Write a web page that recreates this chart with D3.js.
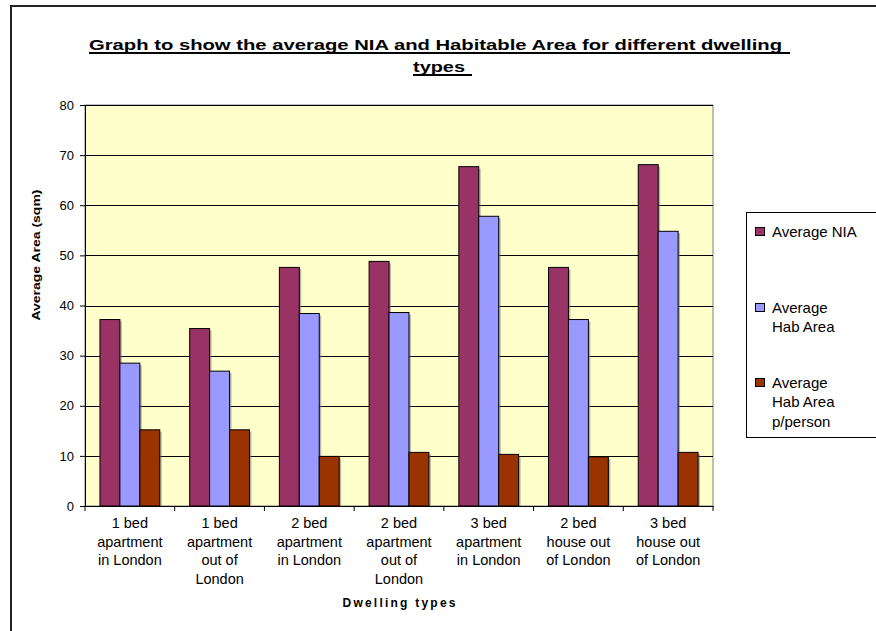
<!DOCTYPE html>
<html>
<head>
<meta charset="utf-8">
<script src="https://cdn.jsdelivr.net/npm/d3@7"></script>
<style>
  html, body { margin: 0; padding: 0; background: #fff; }
  svg { display: block; font-family: Arial, "Liberation Sans", sans-serif; }
</style>
</head>
<body>
<svg id="chart" width="876" height="631"></svg>
<script>
// ---- data ----
const categories = [
  "1 bed apartment in London",
  "1 bed apartment out of London",
  "2 bed apartment in London",
  "2 bed apartment out of London",
  "3 bed apartment in London",
  "2 bed house out of London",
  "3 bed house out of London"
];
const categoryLines = [
  ["1 bed", "apartment", "in London"],
  ["1 bed", "apartment", "out of", "London"],
  ["2 bed", "apartment", "in London"],
  ["2 bed", "apartment", "out of", "London"],
  ["3 bed", "apartment", "in London"],
  ["2 bed", "house out", "of London"],
  ["3 bed", "house out", "of London"]
];
const seriesNames = ["Average NIA", "Average Hab Area", "Average Hab Area p/person"];
const legendLines = [["Average NIA"], ["Average", "Hab Area"], ["Average", "Hab Area", "p/person"]];
const averageNIA = [37.2, 35.4, 47.6, 48.8, 67.7, 47.6, 68.1];
const averageHab = [28.5, 26.9, 38.4, 38.6, 57.8, 37.2, 54.8];
const averageHabPerPerson = [15.2, 15.2, 9.9, 10.7, 10.3, 9.8, 10.7];
const yTicks = [0, 10, 20, 30, 40, 50, 60, 70, 80];
const colors = ["#993366", "#9999FF", "#993300"];

const seriesValues = [averageNIA, averageHab, averageHabPerPerson];

// ---- layout ----
const svg = d3.select("#chart");
const plot = { left: 85, right: 713, top: 105, bottom: 506 };

const x = d3.scaleBand().domain(categories).range([plot.left, plot.right]).paddingInner(0).paddingOuter(0);
const xs = d3.scaleBand().domain(seriesNames).range([0, x.bandwidth()]).paddingInner(0).paddingOuter(0.75);
const y = d3.scaleLinear().domain([0, 80]).range([plot.bottom, plot.top]);

// outer frame
svg.append("rect")
  .attr("x", 11).attr("y", 6).attr("width", 900).attr("height", 700)
  .attr("fill", "#fff").attr("stroke", "#222").attr("stroke-width", 2);

// title
const title1 = "Graph to show the average NIA and Habitable Area for different dwelling";
const title2 = "types";
const tg = svg.append("g").attr("font-weight", "bold").attr("font-size", 15).attr("fill", "#000");
tg.append("text").attr("x", 89).attr("y", 50).attr("textLength", 693).attr("lengthAdjust", "spacingAndGlyphs").text(title1);
tg.append("rect").attr("x", 89).attr("y", 52).attr("width", 701).attr("height", 2);
tg.append("text").attr("x", 413).attr("y", 72).attr("textLength", 52).attr("lengthAdjust", "spacingAndGlyphs").text(title2);
tg.append("rect").attr("x", 413).attr("y", 74).attr("width", 59).attr("height", 2);

// plot background
svg.append("rect")
  .attr("x", plot.left).attr("y", plot.top)
  .attr("width", plot.right - plot.left).attr("height", plot.bottom - plot.top)
  .attr("fill", "#FFFFCC").attr("stroke", "#808080").attr("stroke-width", 1);

// gridlines
svg.append("g").selectAll("line").data(yTicks.filter(d => d > 0)).join("line")
  .attr("x1", plot.left).attr("x2", plot.right)
  .attr("y1", d => Math.round(y(d)) + 0.5).attr("y2", d => Math.round(y(d)) + 0.5)
  .attr("stroke", "#000").attr("stroke-width", 1);

// bars
const barData = [];
categories.forEach((c, i) => {
  seriesNames.forEach((s, j) => barData.push({ c, s, j, v: seriesValues[j][i] }));
});
const bars = svg.append("g");
bars.selectAll("rect.shadow").data(barData).join("rect").attr("class", "shadow")
  .attr("x", d => x(d.c) + xs(d.s) + 2)
  .attr("y", d => y(d.v) + 2)
  .attr("width", xs.bandwidth())
  .attr("height", d => y(0) - y(d.v) - 2)
  .attr("fill", "#808080").attr("opacity", 0.55);
bars.selectAll("rect.bar").data(barData).join("rect").attr("class", "bar")
  .attr("x", d => x(d.c) + xs(d.s))
  .attr("y", d => y(d.v))
  .attr("width", xs.bandwidth())
  .attr("height", d => y(0) - y(d.v))
  .attr("fill", d => colors[d.j]).attr("stroke", "#000").attr("stroke-width", 1);

// y axis
const yAxis = d3.axisLeft(y).tickValues(yTicks).tickSize(5).tickPadding(6).tickFormat(d3.format("d"));
const ya = svg.append("g").attr("transform", `translate(${plot.left},0)`).call(yAxis);
ya.select(".domain").attr("stroke", "#000");
ya.selectAll(".tick line").attr("stroke", "#000");
ya.selectAll(".tick text").attr("font-size", 13).attr("font-family", "Arial, 'Liberation Sans', sans-serif").attr("fill", "#000");

// x axis
const xAxis = d3.axisBottom(x).tickSize(0).tickFormat("");
const xa = svg.append("g").attr("transform", `translate(0,${plot.bottom})`).call(xAxis);
xa.select(".domain").attr("stroke", "#000");
const bounds = categories.map(c => x(c)).concat([plot.right]);
xa.selectAll("line.bt").data(bounds).join("line").attr("class", "bt")
  .attr("x1", d => d).attr("x2", d => d).attr("y1", 0).attr("y2", 5)
  .attr("stroke", "#000");

// category labels
const cl = svg.append("g").attr("font-size", 14.5).attr("fill", "#000").attr("text-anchor", "middle");
categories.forEach((c, i) => {
  const cx = x(c) + x.bandwidth() / 2;
  const t = cl.append("text").attr("x", cx).attr("y", 528);
  categoryLines[i].forEach((ln, k) => {
    t.append("tspan").attr("x", cx).attr("y", 528 + k * 18.5).text(ln);
  });
});

// axis titles
svg.append("text").attr("x", (plot.left + plot.right) / 2).attr("y", 607)
  .attr("text-anchor", "middle").attr("font-weight", "bold").attr("font-size", 12)
  .attr("textLength", 113).attr("lengthAdjust", "spacing")
  .text("Dwelling types");
svg.append("text").attr("transform", "translate(40,255) rotate(-90)")
  .attr("text-anchor", "middle").attr("font-weight", "bold").attr("font-size", 11)
  .attr("textLength", 131).attr("lengthAdjust", "spacingAndGlyphs")
  .text("Average Area (sqm)");

// legend
const lg = svg.append("g");
lg.append("rect").attr("x", 746.5).attr("y", 212.5).attr("width", 200).attr("height", 225)
  .attr("fill", "#fff").attr("stroke", "#000").attr("stroke-width", 1);
const legendY = [237, 313, 388];
seriesNames.forEach((s, j) => {
  lg.append("rect").attr("x", 755.5).attr("y", legendY[j] - 9.5).attr("width", 9).attr("height", 8)
    .attr("fill", colors[j]).attr("stroke", "#000").attr("stroke-width", 1);
  const t = lg.append("text").attr("font-size", 15).attr("fill", "#000");
  legendLines[j].forEach((ln, k) => {
    t.append("tspan").attr("x", 772).attr("y", legendY[j] + k * 19.3).text(ln);
  });
});
</script>
</body>
</html>
